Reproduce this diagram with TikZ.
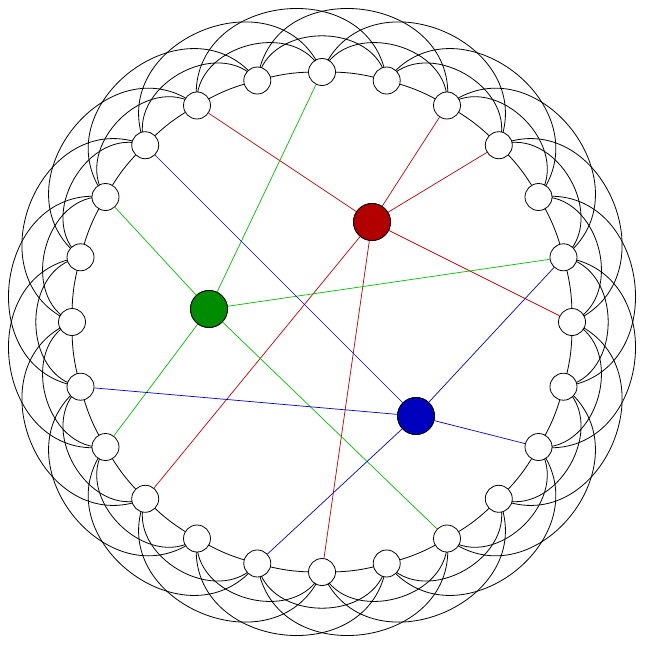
\documentclass[tikz,border=0pt]{standalone}
\begin{document}
\begin{tikzpicture}[x=1pt,y=-1pt,
  vtx/.style={circle,draw,fill=white,minimum size=27pt,inner sep=0pt,line width=0.8pt},
  big/.style={circle,draw,minimum size=37pt,inner sep=0pt,line width=0.8pt},
  e/.style={line width=0.8pt}]
\useasboundingbox (0,0) rectangle (645,645);
\foreach \i in {0,...,23}{
  \coordinate (p\i) at ({322+250*cos(90+15*\i)},{322-250*sin(90+15*\i)});
}
\foreach \i in {0,...,23}{
  \pgfmathtruncatemacro\a{mod(\i+1,24)}
  \pgfmathtruncatemacro\b{mod(\i+2,24)}
  \pgfmathtruncatemacro\c{mod(\i+3,24)}
  \draw[e] (p\i) to[bend right=8] (p\a);
  \draw[e] (p\i) to[bend right=80,looseness=1.2] (p\b);
  \draw[e] (p\i) to[bend right=90,looseness=1.5] (p\c);
}
\node[big,fill=red!70!black] (R) at (372,222) {};
\node[big,fill=green!55!black] (G) at (209,309) {};
\node[big,fill=blue!75!black] (B) at (416,416) {};
\foreach \i in {0,...,23}{ \node[vtx] (n\i) at (p\i) {}; }
\foreach \j in {2,22,21,18,9,12}{ \draw[red!75!black,line width=0.7pt] (R) -- (n\j); }
\foreach \j in {0,4,19,8,14}{ \draw[green!75!black,line width=0.7pt] (G) -- (n\j); }
\foreach \j in {3,7,19,16,11}{ \draw[blue!80!black,line width=0.7pt] (B) -- (n\j); }
\node[big,fill=red!70!black] at (R) {};
\node[big,fill=green!55!black] at (G) {};
\node[big,fill=blue!75!black] at (B) {};
\end{tikzpicture}
\end{document}
